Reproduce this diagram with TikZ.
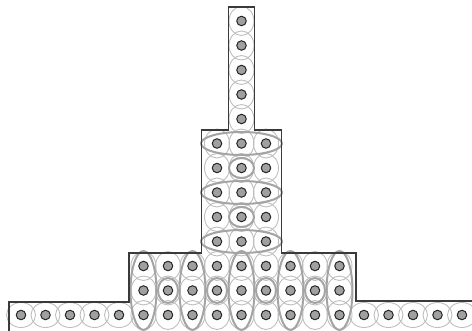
\documentclass[tikz,border=0pt]{standalone}
\begin{document}
\definecolor{outl}{HTML}{3A3A3A}
\definecolor{lensc}{HTML}{BEBEBE}
\definecolor{grpc}{HTML}{A4A4A4}
\definecolor{dotf}{HTML}{A0A0A0}
\definecolor{dotd}{HTML}{262626}
\begin{tikzpicture}[x=1pt,y=-1pt,
  lensline/.style={draw=lensc,line width=0.9pt},
  grpline/.style={draw=grpc,line width=2pt},
  outline/.style={draw=outl,line width=1.1pt},
  dotnode/.style={circle,draw=dotd,fill=dotf,line width=1pt,minimum size=9.5pt,inner sep=0pt}]
\useasboundingbox (0,0) rectangle (472,331);
\pgfmathsetmacro{\cx}{241.5}
\pgfmathsetmacro{\sp}{24.5}
\pgfmathsetmacro{\yo}{21}
% thin vertical lenses: top column
\foreach \j in {0,...,4}{
  \draw[lensline] ({\cx},{\yo+\j*\sp}) ellipse [x radius=12.5, y radius=14.5];
}
% middle block
\foreach \k in {-1,0,1}{\foreach \j in {5,...,9}{
  \draw[lensline] ({\cx+\k*\sp},{\yo+\j*\sp}) ellipse [x radius=12.5, y radius=14.5];
}}
% bottom block
\foreach \k in {-4,...,4}{\foreach \j in {10,11,12}{
  \draw[lensline] ({\cx+\k*\sp},{\yo+\j*\sp}) ellipse [x radius=12.5, y radius=14.5];
}}
% bottom row horizontal lenses
\foreach \k in {-9,...,-5,5,6,7,8,9}{
  \draw[lensline] ({\cx+\k*\sp},{\yo+12*\sp}) ellipse [x radius=14.5, y radius=12.5];
}
% group ellipses middle block
\foreach \j in {5,7,9}{
  \draw[grpline] ({\cx},{\yo+\j*\sp}) ellipse [x radius=40.5, y radius=11.5];
}
\foreach \j in {6,8}{
  \draw[grpline] ({\cx},{\yo+\j*\sp}) ellipse [x radius=12.5, y radius=10];
}
% group ellipses bottom block
\foreach \k in {-4,-2,0,2,4}{
  \draw[grpline] ({\cx+\k*\sp},{\yo+11*\sp}) ellipse [x radius=13, y radius=39.5];
}
\foreach \k in {-3,-1,1,3}{
  \draw[grpline] ({\cx+\k*\sp},{\yo+11*\sp}) ellipse [x radius=10, y radius=12.5];
}
% outline
\draw[outline] (9,331) -- (9,302) -- (129,302) -- (129,253) -- (201.5,253) -- (201.5,130)
  -- (228.5,130) -- (228.5,7) -- (254.5,7) -- (254.5,130) -- (281.5,130) -- (281.5,253)
  -- (356,253) -- (356,301) -- (472,301);
% dots
\foreach \j in {0,...,4}{
  \node[dotnode] (t\j) at ({\cx},{\yo+\j*\sp}) {};
}
\foreach \k [count=\c] in {-1,0,1}{\foreach \j in {5,...,9}{
  \node[dotnode] (m\c-\j) at ({\cx+\k*\sp},{\yo+\j*\sp}) {};
}}
\foreach \k [count=\c] in {-4,...,4}{\foreach \j in {10,11,12}{
  \node[dotnode] (b\c-\j) at ({\cx+\k*\sp},{\yo+\j*\sp}) {};
}}
\foreach \k [count=\c] in {-9,...,-5,5,6,7,8,9}{
  \node[dotnode] (r\c) at ({\cx+\k*\sp},{\yo+12*\sp}) {};
}
\end{tikzpicture}
\end{document}
